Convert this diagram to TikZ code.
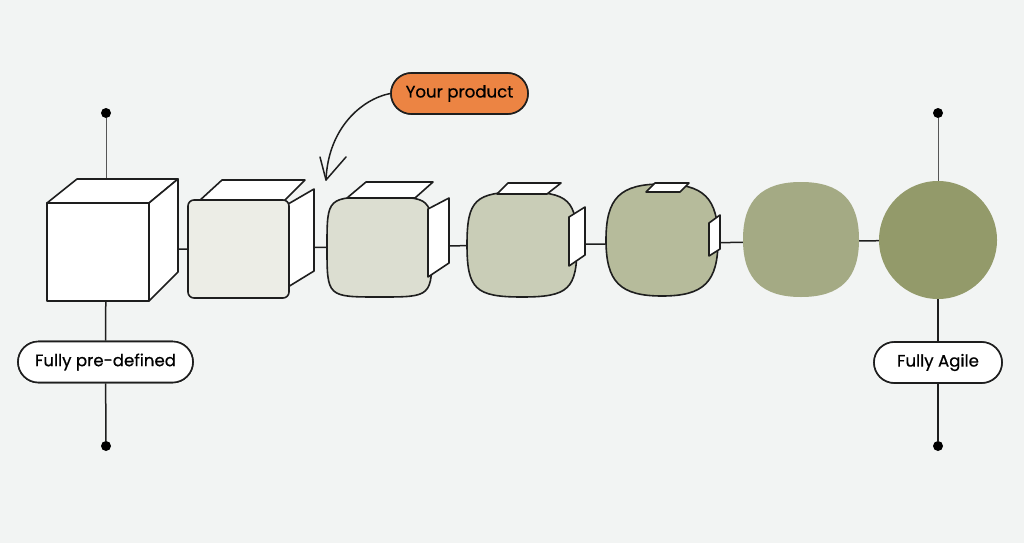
\documentclass[tikz,border=0pt]{standalone}
\usepackage{fontspec}
\setmainfont{Poppins}
\newfontfamily\lblfont{Poppins}[FakeBold=0.6]
\definecolor{bg}{HTML}{F2F4F3}
\definecolor{cA}{HTML}{ECEDE6}
\definecolor{cB}{HTML}{DCDED1}
\definecolor{cC}{HTML}{C9CDB7}
\definecolor{cD}{HTML}{B6BB9B}
\definecolor{cE}{HTML}{A4AA84}
\definecolor{cF}{HTML}{939A6A}
\definecolor{orng}{HTML}{EC8443}
\definecolor{ink}{HTML}{1E1E1E}
\newcommand{\mkblob}[7]{%
\path[#7, fill=#1] (#2,#3-#5) .. controls (#2+#6*#4,#3-#5) and (#2+#4,#3-#6*#5) .. (#2+#4,#3)
 .. controls (#2+#4,#3+#6*#5) and (#2+#6*#4,#3+#5) .. (#2,#3+#5)
 .. controls (#2-#6*#4,#3+#5) and (#2-#4,#3+#6*#5) .. (#2-#4,#3)
 .. controls (#2-#4,#3-#6*#5) and (#2-#6*#4,#3-#5) .. cycle;}
\begin{document}
\begin{tikzpicture}[x=1pt,y=-1pt,
  outl/.style={draw=ink, line width=1.6pt, line join=round},
  panel/.style={outl, fill=white},
  pill/.style={draw=ink, line width=1.6pt, fill=white, rounded corners=20.5pt,
    minimum height=41pt, inner xsep=0pt, font=\lblfont\fontsize{16.6}{19}\selectfont, text=black},
  dot/.style={circle, fill=black, inner sep=0pt, minimum size=10pt},
  thinln/.style={draw=ink!75, line width=0.9pt},
  mainln/.style={draw=ink, line width=1.5pt}]
\fill[bg] (0,0) rectangle (1024,543);
\useasboundingbox (0,0) rectangle (1024,543);

% axis nodes
\node[dot] (ltop) at (106,113) {};
\node[dot] (lbot) at (106,446) {};
\node[dot] (rtop) at (938,113) {};
\node[dot] (rbot) at (938,446) {};
\coordinate (lmid) at (106,250);
\coordinate (rmid) at (938,240);
\node[pill, minimum width=175pt] (pre) at (105.5,362) {Fully pre-defined};
\node[pill, minimum width=128pt] (agile) at (938,362.5) {Fully Agile};
\node[pill, minimum width=137pt, fill=orng] (prod) at (459.5,93.5) {Your product};

% lines behind shapes
\draw[thinln] (ltop) -- (lmid);
\draw[mainln] (lmid) -- (pre) -- (lbot);
\draw[thinln] (rtop) -- (rmid);
\draw[mainln] (rmid) -- (agile) -- (rbot);
\draw[mainln] (lmid) -- (rmid);

% cube 1
\path[panel] (47,203) -- (77,179) -- (178,179) -- (149,203) -- cycle;
\path[panel] (149,203) -- (178,179) -- (178,272) -- (149,301) -- cycle;
\path[panel] (47,203) rectangle (149,301);

% cube 2
\path[panel] (283,207) -- (314,189) -- (314,271) -- (283,290) -- cycle;
\path[panel] (198,202) -- (222,180) -- (305,180) -- (283,202) -- cycle;
\path[outl, fill=cA, rounded corners=6pt] (188,200) rectangle (289,298);

% cube 3
\mkblob{cB}{379.5}{247}{52.5}{50}{1.0}{outl}
\path[panel] (347,198) -- (366,182) -- (433,182) -- (415,198) -- cycle;
\path[panel] (428,209) -- (449,198) -- (449,263) -- (428,277) -- cycle;

% cube 4
\mkblob{cC}{522}{244.5}{55}{52.5}{0.85}{outl}
\path[panel] (497,194) -- (508,183) -- (561,183) -- (547,194) -- cycle;
\path[panel] (569,217) -- (585,207) -- (585,255) -- (569,266) -- cycle;

% cube 5
\mkblob{cD}{662}{240}{56}{56}{0.75}{outl}
\path[panel] (646,192) -- (655,183) -- (689,183) -- (680,192) -- cycle;
\path[panel] (709,223) -- (720,215) -- (720,249) -- (709,256) -- cycle;

% shape 6
\mkblob{cE}{801}{239.5}{58}{57.5}{0.68}{draw=none}

% circle
\fill[cF] (938,240) circle (59);

% labels again on top
\node[pill, minimum width=175pt] at (pre) {Fully pre-defined};
\node[pill, minimum width=128pt] at (agile) {Fully Agile};
\node[pill, minimum width=137pt, fill=orng] at (prod) {Your product};

% arrow
\coordinate (tip) at (326,180);
\draw[ink, line width=1.5pt, line cap=round] (prod.west) .. controls (362,99) and (328,128) .. (tip);
\draw[ink, line width=1.5pt, line cap=round, line join=round] (tip) ++(-6,-23) -- (tip) -- ++(20,-23);
\end{tikzpicture}
\end{document}
